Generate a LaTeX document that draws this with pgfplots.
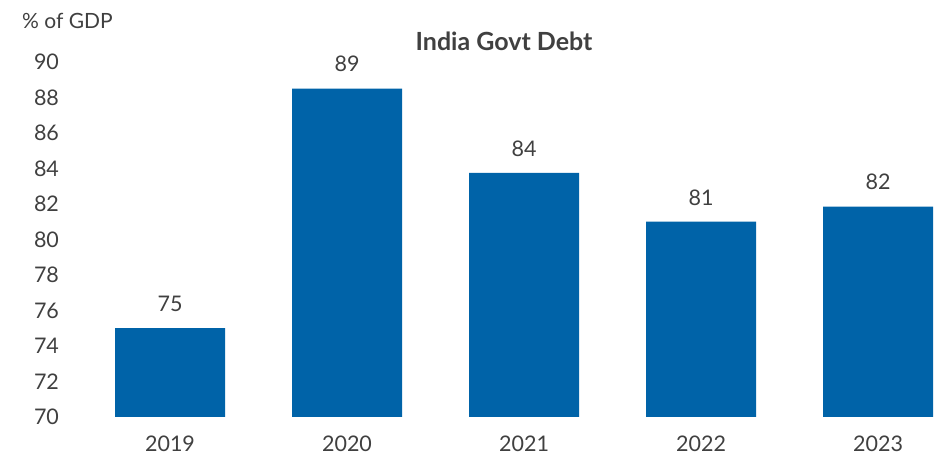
\documentclass[border=0pt]{standalone}
\usepackage{fontspec}
\setmainfont{Lato}
\usepackage{pgfplots}
\pgfplotsset{compat=1.18}
\definecolor{barblue}{RGB}{0,99,168}
\definecolor{txt}{RGB}{64,64,64}
\begin{document}
\begin{tikzpicture}[x=1pt,y=1pt]
\path[use as bounding box] (0,0) rectangle (934,457);
\begin{axis}[
  at={(81.5pt,40pt)}, anchor=south west,
  scale only axis, width=852.5pt, height=355pt,
  xmin=-0.5, xmax=4.316, ymin=70, ymax=90,
  ytick={70,72,...,90},
  xtick={0,1,2,3,4},
  xticklabels={2019,2020,2021,2022,2023},
  axis line style={draw=none},
  major tick length=0pt,
  tick style={draw=none},
  clip=false,
  /pgf/number format/assume math mode=true,
  ticklabel style={font=\fontsize{21.5}{24}\selectfont, text=txt},
  yticklabel style={anchor=east, xshift=-19pt},
  xticklabel style={anchor=north, yshift=-15pt},
  nodes near coords,
  point meta=explicit symbolic,
  every node near coord/.append style={font=\fontsize{21.5}{24}\selectfont, text=txt, anchor=south, yshift=13pt},
]
\addplot[ybar, bar width=110pt, fill=barblue, draw=none, ybar legend]
  coordinates {(0,75.0)[75] (1,88.5)[89] (2,83.75)[84] (3,81.0)[81] (4,81.85)[82]};
\end{axis}
\node[anchor=center, font=\fontsize{25}{28}\selectfont\bfseries, text=txt] at (504,416) {India Govt Debt};
\node[anchor=west, inner sep=0pt, font=\fontsize{21}{24}\selectfont, text=txt] at (22,436) {\% of GDP};
\end{tikzpicture}
\end{document}
